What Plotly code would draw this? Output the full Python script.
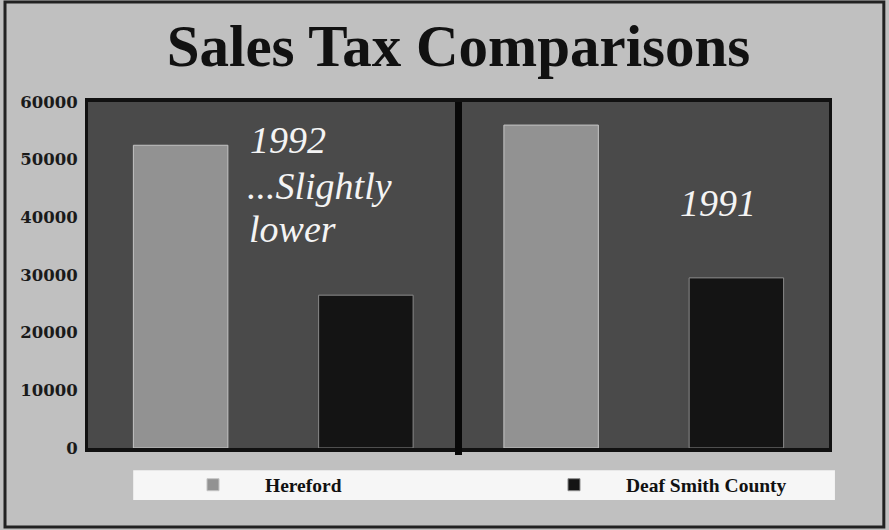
import plotly.graph_objects as go

# ---- data ----
years = ["1992", "1991"]
series_names = ["Hereford", "Deaf Smith County"]
hereford_values = [52500, 56000]
deaf_smith_values = [26500, 29500]
y_ticks = [0, 10000, 20000, 30000, 40000, 50000, 60000]

# four slots: each year has a Hereford slot and a Deaf Smith slot
slot_order = [f"{y} {s}" for y in years for s in series_names]
hereford_x = [f"{y} Hereford" for y in years]
deaf_x = [f"{y} Deaf Smith County" for y in years]

SERIF = "Liberation Serif, Times New Roman, serif"
WIDE_SERIF = "DejaVu Serif, serif"

fig = go.Figure()
fig.add_trace(go.Bar(
    x=hereford_x, y=hereford_values, name="Hereford",
    marker=dict(color="#929292", line=dict(color="#c4c4c4", width=1)),
))
fig.add_trace(go.Bar(
    x=deaf_x, y=deaf_smith_values, name="Deaf Smith County",
    marker=dict(color="#141414", line=dict(color="#8a8a8a", width=1)),
))

fig.update_layout(
    width=889, height=530,
    margin=dict(l=88, r=60, t=102, b=82, autoexpand=False),
    paper_bgcolor="#c0c0c0",
    plot_bgcolor="#4a4a4a",
    barmode="overlay",
    bargap=0.49,
    showlegend=True,
    title=dict(text="<b>Sales Tax Comparisons</b>", x=0.5, xref="paper", xanchor="center",
               y=0.915, yanchor="middle",
               font=dict(family=SERIF, size=59, color="#111111")),
    font=dict(family=SERIF, color="#111111"),
    xaxis=dict(type="category", categoryorder="array", categoryarray=slot_order,
               showticklabels=False, showgrid=False, zeroline=False,
               showline=True, linecolor="#111111", linewidth=4, mirror=True,
               range=[-0.5, 3.5]),
    yaxis=dict(range=[0, 60000], tickvals=y_ticks,
               ticktext=[str(v) for v in y_ticks],
               showgrid=False, zeroline=False,
               showline=True, linecolor="#111111", linewidth=3, mirror=True,
               ticks="", ticklabelstandoff=4,
               tickfont=dict(family=WIDE_SERIF, size=16.5, color="#1a1a1a", weight="bold")),
    legend=dict(orientation="h", x=0.0985, xanchor="left", y=-0.107, yanchor="middle",
                bgcolor="rgba(0,0,0,0)", borderwidth=0,
                entrywidth=252, entrywidthmode="pixels", itemwidth=94,
                font=dict(family=SERIF, size=19.5, color="#111111", weight="bold")),
)

# legend panel (white strip under the plot)
fig.add_shape(type="rect", xref="paper", yref="paper", x0=0.061, x1=1.008,
              y0=-0.150, y1=-0.064, fillcolor="#f6f6f6", line=dict(width=0), layer="below")
# central divider between the two years
fig.add_shape(type="line", xref="x", yref="paper", x0=1.5, x1=1.5, y0=-0.02, y1=1.0,
              line=dict(color="#080808", width=7))
# outer frame
fig.add_shape(type="rect", xref="paper", yref="paper", x0=-0.112, x1=1.074,
              y0=-0.228, y1=1.289, line=dict(color="#222222", width=3))

ann_font = dict(family=SERIF, size=38, color="#f4f4f4", style="italic")
fig.add_annotation(x=0.216, y=0.890, xref="paper", yref="paper", text="1992",
                   showarrow=False, xanchor="left", yanchor="middle", font=ann_font)
fig.add_annotation(x=0.212, y=0.757, xref="paper", yref="paper", text="...Slightly",
                   showarrow=False, xanchor="left", yanchor="middle", font=ann_font)
fig.add_annotation(x=0.215, y=0.633, xref="paper", yref="paper", text="lower",
                   showarrow=False, xanchor="left", yanchor="middle", font=ann_font)
fig.add_annotation(x=0.796, y=0.708, xref="paper", yref="paper", text="1991",
                   showarrow=False, xanchor="left", yanchor="middle", font=ann_font)

fig.write_html("out.html")
